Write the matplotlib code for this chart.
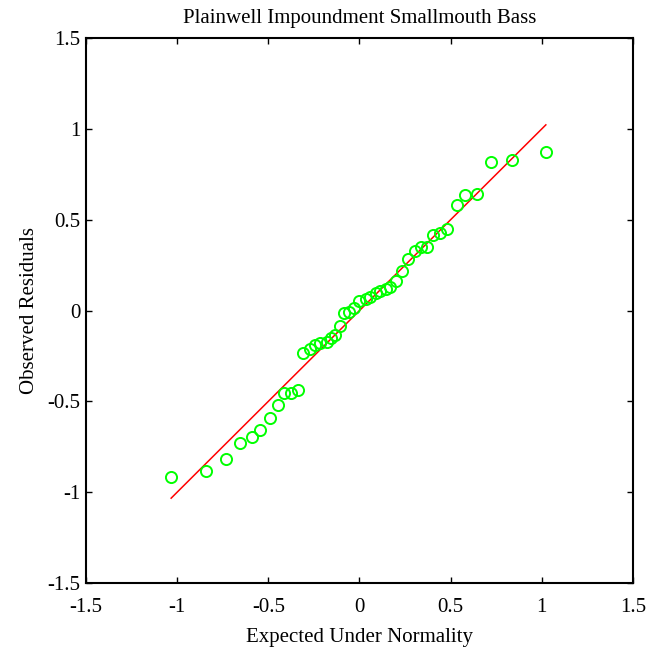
import numpy as np
import matplotlib
matplotlib.use("Agg")
import matplotlib.pyplot as plt

# expected normal quantiles vs observed residuals
expected = [-1.033, -0.84, -0.73, -0.654, -0.588, -0.544, -0.489, -0.445, -0.414, -0.377,
            -0.338, -0.308, -0.27, -0.244, -0.219, -0.18, -0.159, -0.132, -0.106, -0.087,
            -0.055, -0.03, 0.0, 0.033, 0.06, 0.088, 0.115, 0.143, 0.170, 0.198,
            0.231, 0.264, 0.302, 0.335, 0.368, 0.401, 0.44, 0.478, 0.533, 0.577,
            0.643, 0.72, 0.835, 1.022]
observed = [-0.914, -0.886, -0.815, -0.732, -0.699, -0.66, -0.594, -0.52, -0.455, -0.455,
            -0.435, -0.235, -0.21, -0.19, -0.178, -0.176, -0.149, -0.133, -0.083, -0.012,
            -0.01, 0.015, 0.055, 0.066, 0.077, 0.094, 0.11, 0.121, 0.127, 0.165,
            0.22, 0.281, 0.33, 0.347, 0.352, 0.413, 0.429, 0.446, 0.583, 0.638,
            0.644, 0.815, 0.831, 0.875]

fit_slope = 1.0
fit_intercept = 0.0

ticks = [-1.5, -1, -0.5, 0, 0.5, 1, 1.5]
tick_labels = ['-1.5', '-1', '-0.5', '0', '0.5', '1', '1.5']

plt.rcParams['font.family'] = ['Liberation Serif', 'DejaVu Serif']

fig = plt.figure(figsize=(6.58, 6.49), dpi=100)
ax = fig.add_axes([0.1307, 0.1017, 0.8313, 0.8397])

x = np.array(expected)
xl = np.array([x.min(), x.max()])
ax.plot(xl, fit_slope * xl + fit_intercept, color='#ff0000', lw=1.1, zorder=2)
ax.plot(expected, observed, 'o', mfc='none', mec='#00ff00', ms=8, mew=1.4, zorder=3)

ax.set_xlim(-1.5, 1.5)
ax.set_ylim(-1.5, 1.5)
ax.set_xticks(ticks)
ax.set_xticklabels(tick_labels)
ax.set_yticks(ticks)
ax.set_yticklabels(tick_labels)
ax.tick_params(direction='in', top=True, right=True, length=4, width=1, labelsize=15)
ax.tick_params(axis='x', pad=11)
ax.tick_params(axis='y', pad=4)
for s in ax.spines.values():
    s.set_linewidth(1.5)

ax.set_title('Plainwell Impoundment Smallmouth Bass', fontsize=15, pad=11)
ax.set_xlabel('Expected Under Normality', fontsize=15, labelpad=8)
ax.set_ylabel('Observed Residuals', fontsize=15, labelpad=6)

fig.savefig('out.png', dpi=100)
